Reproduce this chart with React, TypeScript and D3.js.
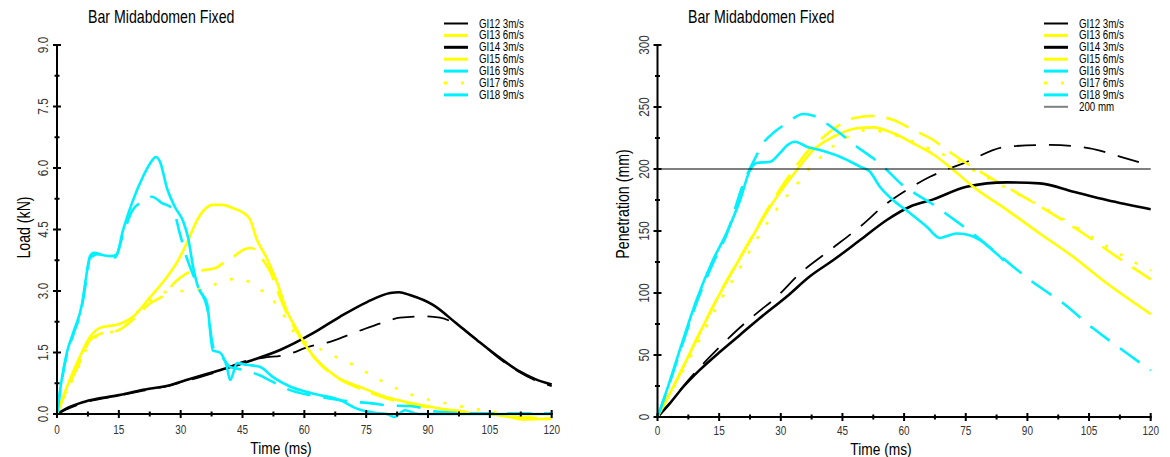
import React from 'react';
import * as d3 from 'd3';

type Pt = [number, number];

const FONT = "'Liberation Sans', Arial, sans-serif";
const NARROW = 0.81; // horizontal compression to mimic a narrow face

// ---------- tick values / labels ----------
const timeTicks = [0, 15, 30, 45, 60, 75, 90, 105, 120];
const loadTicks = [0, 1.5, 3, 4.5, 6, 7.5, 9];
const penTicks = [0, 50, 100, 150, 200, 250, 300];
const chartTitle = 'Bar Midabdomen Fixed';
const xTitle = 'Time (ms)';
const loadTitle = 'Load (kN)';
const penTitle = 'Penetration (mm)';
const seriesNames = ['GI12 3m/s', 'GI13 6m/s', 'GI14 3m/s', 'GI15 6m/s', 'GI16 9m/s', 'GI17 6m/s', 'GI18 9m/s'];
const limitValue = 200;
const limitLabel = '200 mm';

// ---------- Load (kN) vs time (ms) ----------
const loadGI12: Pt[] = [[0,0],[2,0.1],[6.7,0.28],[15,0.45],[21,0.57],[27.6,0.7],[32,0.82],[38,1.0],[46,1.3],[50,1.37],[55.8,1.45],[61.4,1.65],[65.5,1.74],[71,1.94],[74.2,2.06],[80,2.26],[83.2,2.35],[89.3,2.38],[92.9,2.35],[97,2.18],[102,1.8],[107,1.38],[112,1.03],[116,0.82],[120,0.68]];
const loadGI13: Pt[] = [[0,0],[2.4,0.6],[5,1.15],[8,1.8],[10.4,1.95],[15,2.05],[18.4,2.3],[22.6,2.7],[25.4,2.86],[29,3.25],[32,3.45],[35,3.5],[38.5,3.56],[40.5,3.7],[43,3.85],[45.5,4.02],[47,4.05],[48.5,3.97],[50,3.75],[51.7,3.48],[53.5,3.0],[56,2.4],[58.5,1.95],[61,1.55],[64,1.2],[68,0.88],[74,0.6],[80,0.38],[87,0.22],[95,0.1],[105,0.0],[112,-0.08],[120,-0.1]];
const loadGI14: Pt[] = [[0,0],[2,0.12],[6.7,0.3],[15,0.46],[20.9,0.59],[27.6,0.71],[31.8,0.84],[37.8,1.02],[46,1.27],[54.1,1.56],[62.1,1.97],[68.6,2.37],[75.2,2.73],[80.8,2.95],[83,2.97],[85.6,2.9],[91.2,2.66],[97,2.2],[101.9,1.8],[107,1.4],[112,1.05],[116,0.85],[120,0.72]];
const loadGI15: Pt[] = [[0,0],[2.4,0.66],[4.85,1.24],[8,1.88],[10.4,2.1],[15.3,2.2],[18.4,2.37],[22.6,2.85],[26.7,3.35],[29.1,3.7],[31.5,4.17],[34,4.73],[35.9,5.0],[37.8,5.1],[40,5.1],[42.7,5.02],[45,4.92],[46.8,4.75],[48.5,4.25],[50.9,3.8],[53.4,3.2],[55.8,2.5],[58.2,2.05],[60.6,1.63],[63.8,1.24],[67.9,0.9],[73.5,0.66],[80,0.41],[86.3,0.26],[94.6,0.1],[100,0.03],[105,0.0],[110,-0.08],[113,-0.13],[118.8,-0.12],[120,-0.12]];
const loadGI16: Pt[] = [[0,0],[1,0.75],[2.4,1.5],[4,2.0],[6.1,2.7],[7,3.3],[8,3.85],[9,3.93],[11,3.88],[13,3.85],[14.6,3.9],[15.8,4.4],[18.2,5.15],[20.9,5.8],[22.5,6.1],[24,6.27],[25,6.15],[26.7,5.5],[28.6,5.05],[30.6,4.7],[31.8,4.3],[33,3.6],[34.2,3.1],[36.4,2.7],[37.8,1.55],[39.5,1.5],[41.2,1.15],[42,0.83],[43.7,1.24],[46,1.2],[49.2,1.15],[52.4,0.9],[56.5,0.67],[62,0.5],[68.6,0.34],[73,0.12],[77,0.03],[80,0.0],[81.8,-0.07],[84.4,0.09],[87.7,0.0],[95,0.0],[120,0.0]];
const loadGI17: Pt[] = [[0,0],[2.4,0.55],[5,1.1],[8,1.75],[11,1.95],[15,2.05],[18,2.3],[20.5,2.6],[24,2.85],[27.4,3.0],[31.5,3.0],[35.4,3.07],[39.5,3.2],[43.2,3.3],[47.2,3.2],[50.4,2.95],[53.3,2.67],[57.7,1.97],[64.3,1.56],[71.8,1.2],[78.3,0.83],[86.3,0.46],[94.3,0.26],[100,0.15],[106.9,0.04],[113,-0.05],[119.3,-0.12],[120,-0.12]];
const loadGI18: Pt[] = [[0,0],[1,0.7],[2.4,1.45],[4,1.95],[6,2.6],[7,3.2],[8,3.8],[10,3.9],[12,3.85],[14,3.82],[15.8,4.3],[18.2,4.95],[21,5.2],[23,5.3],[25.4,5.15],[28.1,5.0],[29.8,4.4],[31.5,3.8],[33,3.4],[34.5,3.05],[36.4,2.6],[38,1.6],[40,1.4],[42,1.15],[44,1.1],[46,1.05],[49,0.95],[52,0.8],[56,0.6],[62,0.45],[66,0.38],[70.6,0.31],[76.4,0.26],[80.2,0.21],[86,0.19],[92,0.06],[100,0.02],[120,0.02]];

// ---------- Penetration (mm) vs time (ms) ----------
const penGI12: Pt[] = [[0,0],[3,11],[6.3,25],[10.3,40],[15,56],[20,72],[25,86],[28.2,94.4],[34.7,115.9],[42,134.7],[49.3,153.5],[55.8,172.3],[60.6,183],[66.3,193.8],[71.2,200.6],[74.4,204.6],[85,218],[95.5,219.4],[105.2,216.7],[112.5,210],[117.8,205],[120,203]];
const penGI13: Pt[] = [[0,0],[5,32],[10,66],[15.2,100],[21.7,138],[27.4,171],[33.9,203],[37,216],[39.5,223.4],[43.6,234],[47.6,240.9],[52.5,242.7],[57.4,239.5],[62.2,231.5],[67.1,223.4],[70.4,215.3],[78.5,197.8],[89,177.7],[103.6,148],[111.7,129.3],[120,111]];
const penGI14: Pt[] = [[0,0],[3,11],[6.3,24.4],[10.3,38],[15,52],[20,66],[25,80],[31.4,97],[37.1,113.5],[42.8,126.6],[49.3,142.7],[55.8,158.9],[61.4,169.6],[67.1,175.5],[75.2,185.7],[85,189.2],[93,188.4],[101.2,181.7],[109.3,175],[120,167.5]];
const penGI15: Pt[] = [[0,0],[5,32],[10,66],[15.2,99.7],[21.7,137.4],[27.4,169.6],[33.9,199.2],[37.9,215.3],[42.8,226],[48.5,232.8],[52.5,233.6],[57.4,228.8],[62.2,220.7],[67.9,209.9],[72,199.2],[76.8,185.7],[85,167],[93,148],[101.2,129],[109.3,107.8],[120,83]];
const penGI16: Pt[] = [[0,0],[3,29],[6,60],[9.5,94.4],[13.5,126.6],[16.8,148.4],[20.1,175],[22.5,199],[24.1,204.8],[27.4,205.9],[29.8,212.9],[31.5,219],[33.5,222],[36.3,218],[39.5,215.3],[44.4,209.9],[49.3,201.9],[51.7,197.8],[54.1,185.7],[57.3,175],[61.4,164.5],[65.5,153.5],[68.7,144.4],[71.2,146.8],[72.8,148],[75.5,147],[78.5,142.7],[81,136],[83.3,129.3],[84.3,126]];
const penGI17: Pt[] = [[0,0],[5,30],[10,61],[15,92],[20,120],[25,148],[30,172],[34.7,191],[37.5,203],[40.8,212.6],[43.6,220.7],[47,227],[50.9,231.5],[55,230],[59,226],[63,221],[67,215],[70.7,210],[78,197],[85.8,183],[96.2,164.5],[103.6,149.5],[110.8,134.7],[118,121.3],[120,118]];
const penGI18: Pt[] = [[0,0],[3,28],[6,58],[9.5,92],[13.5,124],[16.8,147],[20.9,188.4],[23.5,207],[25.7,220.7],[28.5,230],[31.4,236.8],[35.5,244.4],[38,243],[40.3,238.5],[44.4,228.8],[48.5,218],[52.5,208.6],[55.8,199.2],[59.1,188.5],[63.9,177.7],[67.9,169.6],[71.2,161.5],[75.6,150.8],[83,131],[90.6,110.5],[98.7,91.7],[106,71.5],[114.2,51.4],[120,37.5]];

const loadSeries = [loadGI12, loadGI13, loadGI14, loadGI15, loadGI16, loadGI17, loadGI18];
const penSeries = [penGI12, penGI13, penGI14, penGI15, penGI16, penGI17, penGI18];

// styles per series (same order as names)
const YEL = '#ffff00';
const CYA = '#00f0ff';
const seriesStyle = [
  { color: '#000000', width: 1.8, dash: '22 13', legendWidth: 2 },
  { color: YEL, width: 2.6, dash: '24 12', legendWidth: 3 },
  { color: '#000000', width: 2.6, dash: '', legendWidth: 3 },
  { color: YEL, width: 2.6, dash: '', legendWidth: 3 },
  { color: CYA, width: 2.6, dash: '', legendWidth: 3 },
  { color: YEL, width: 2.6, dash: '3 14', legendWidth: 3 },
  { color: CYA, width: 2.6, dash: '24 13', legendWidth: 3 },
];

type TProps = {
  x: number; y: number; size: number; anchor?: 'start' | 'middle' | 'end';
  rotate?: boolean; fill?: string; dy?: string; sx?: number; children: React.ReactNode;
};
function T({ x, y, size, anchor = 'start', rotate = false, fill = '#000', dy, sx = NARROW, children }: TProps) {
  const tf = `translate(${x},${y})${rotate ? ' rotate(-90)' : ''} scale(${sx},1)`;
  return (
    <text transform={tf} textAnchor={anchor} dy={dy} fontFamily={FONT} fontSize={size} fill={fill}>{children}</text>
  );
}

type PanelProps = {
  xr: [number, number];
  yr: [number, number];
  yDomain: [number, number];
  yTicks: number[];
  yFmt: (v: number) => string;
  data: Pt[][];
  titleX: number;
  yTitle: string;
  yTitlePos: [number, number];
  yTickLabelX: number;
  xTickLabelY: number;
  xTitleX: number;
  xTitleY: number;
  legendX: number;
  hline?: boolean;
};

function Panel(p: PanelProps) {
  const x = d3.scaleLinear().domain([0, 120]).range(p.xr);
  const y = d3.scaleLinear().domain(p.yDomain).range(p.yr);
  const line = d3.line<Pt>().x(d => x(d[0])).y(d => y(d[1])).curve(d3.curveMonotoneX);
  const yStep = p.yTicks[1] - p.yTicks[0];
  const xStep = timeTicks[1] - timeTicks[0];
  const yMinor = p.yTicks.slice(0, -1).map(v => v + yStep / 2);
  const xMinor = timeTicks.slice(0, -1).map(v => v + xStep / 2);
  const y0 = y(p.yDomain[0]);
  const x0 = x(0);
  const legendRows = seriesNames.length + (p.hline ? 1 : 0);
  return (
    <g>
      <T x={p.titleX} y={22.5} size={17.5}>{chartTitle}</T>
      {/* series */}
      {p.data.map((d, i) => (
        <path key={i} d={line(d) || ''} fill="none" stroke={seriesStyle[i].color}
          strokeWidth={seriesStyle[i].width} strokeDasharray={seriesStyle[i].dash || undefined}
          strokeLinejoin="round" strokeLinecap="butt" />
      ))}
      {p.hline && (
        <line x1={x(0)} x2={x(120)} y1={y(limitValue)} y2={y(limitValue)} stroke="#000" strokeWidth={1.2} />
      )}
      {/* axes */}
      <line x1={x0} x2={x0} y1={y0 + 1} y2={y(p.yDomain[1])} stroke="#000" strokeWidth={2} />
      <line x1={x0 - 1} x2={x(120) + 1} y1={y0} y2={y0} stroke="#000" strokeWidth={2} />
      {p.yTicks.map(v => (
        <g key={'yt' + v}>
          <line x1={x0 - 4} x2={x0 + 4} y1={y(v)} y2={y(v)} stroke="#000" strokeWidth={2} />
          <T x={p.yTickLabelX} y={y(v)} rotate anchor="middle" dy="0.36em" size={14} fill="#333" sx={0.84}>{p.yFmt(v)}</T>
        </g>
      ))}
      {yMinor.map(v => (
        <line key={'ym' + v} x1={x0 - 2.5} x2={x0 + 2.5} y1={y(v)} y2={y(v)} stroke="#000" strokeWidth={2} />
      ))}
      {timeTicks.map(v => (
        <g key={'xt' + v}>
          <line x1={x(v)} x2={x(v)} y1={y0 - 4} y2={y0 + 4} stroke="#000" strokeWidth={2} />
          <T x={x(v)} y={p.xTickLabelY} anchor="middle" size={13.5} fill="#333" sx={0.74}>{v}</T>
        </g>
      ))}
      {xMinor.map(v => (
        <line key={'xm' + v} x1={x(v)} x2={x(v)} y1={y0 - 2.5} y2={y0 + 2.5} stroke="#000" strokeWidth={2} />
      ))}
      <T x={p.xTitleX} y={p.xTitleY} anchor="middle" size={17}>{xTitle}</T>
      <T x={p.yTitlePos[0]} y={p.yTitlePos[1]} rotate anchor="middle" dy="0.36em" size={17.5}>{p.yTitle}</T>
      {/* legend */}
      {Array.from({ length: legendRows }).map((_, i) => {
        const ry = 23.5 + i * 11.9;
        const isLimit = i >= seriesNames.length;
        const st = isLimit ? { color: '#808080', legendWidth: 2, dash: '' } : seriesStyle[i];
        return (
          <g key={'lg' + i}>
            <line x1={p.legendX} x2={p.legendX + 24} y1={ry} y2={ry} stroke={st.color}
              strokeWidth={st.legendWidth} strokeDasharray={i === 5 ? '3 14' : undefined} />
            <T x={p.legendX + 35} y={ry + 4} size={12}>
              {isLimit ? limitLabel : seriesNames[i]}
            </T>
          </g>
        );
      })}
    </g>
  );
}

export default function App() {
  return (
    <svg width={1170} height={457} style={{ position: 'absolute', left: 0, top: 0, background: '#fff' }}>
      <rect x={0} y={0} width={1170} height={457} fill="#fff" />
      <Panel xr={[57, 551.7]} yr={[414, 45]} yDomain={[0, 9]} yTicks={loadTicks} yFmt={v => v.toFixed(1)}
        data={loadSeries} titleX={88} yTitle={loadTitle} yTitlePos={[24, 227.5]} yTickLabelX={43}
        xTickLabelY={434} xTitleX={281} xTitleY={453.5} legendX={444} />
      <Panel xr={[657.5, 1150.7]} yr={[417, 45]} yDomain={[0, 300]} yTicks={penTicks} yFmt={v => String(v)}
        data={penSeries} titleX={688} yTitle={penTitle} yTitlePos={[623, 204]} yTickLabelX={644}
        xTickLabelY={435} xTitleX={881} xTitleY={454.5} legendX={1044} hline />
    </svg>
  );
}
